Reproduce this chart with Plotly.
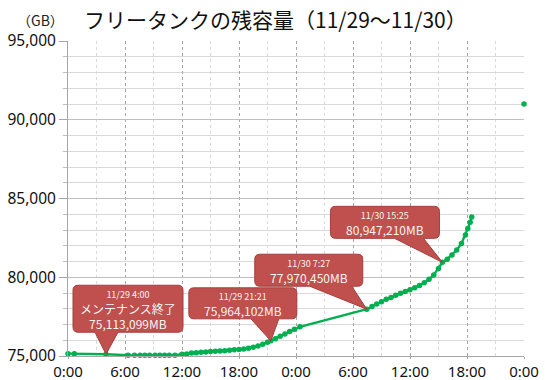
import pandas as pd
import plotly.graph_objects as go

# ---------------- data ----------------
times = [
    "2023-11-29 00:00", "2023-11-29 00:40", "2023-11-29 04:00", "2023-11-29 06:20",
    "2023-11-29 07:00", "2023-11-29 07:35", "2023-11-29 08:05", "2023-11-29 08:35",
    "2023-11-29 09:10", "2023-11-29 09:40", "2023-11-29 10:10", "2023-11-29 10:40",
    "2023-11-29 11:15", "2023-11-29 12:00", "2023-11-29 12:30", "2023-11-29 13:00",
    "2023-11-29 13:30", "2023-11-29 14:00", "2023-11-29 14:30", "2023-11-29 15:00",
    "2023-11-29 15:30", "2023-11-29 16:00", "2023-11-29 16:30", "2023-11-29 17:00",
    "2023-11-29 17:30", "2023-11-29 18:00", "2023-11-29 18:30", "2023-11-29 19:00",
    "2023-11-29 19:30", "2023-11-29 20:00", "2023-11-29 20:30", "2023-11-29 21:00",
    "2023-11-29 21:21", "2023-11-29 21:50", "2023-11-29 22:20", "2023-11-29 22:50",
    "2023-11-29 23:20", "2023-11-29 23:50", "2023-11-30 00:25", "2023-11-30 07:27",
    "2023-11-30 08:00", "2023-11-30 08:30", "2023-11-30 09:00", "2023-11-30 09:30",
    "2023-11-30 10:00", "2023-11-30 10:30", "2023-11-30 11:00", "2023-11-30 11:30",
    "2023-11-30 12:00", "2023-11-30 12:30", "2023-11-30 13:00", "2023-11-30 13:30",
    "2023-11-30 14:00", "2023-11-30 14:30", "2023-11-30 15:00", "2023-11-30 15:25",
    "2023-11-30 15:55", "2023-11-30 16:25", "2023-11-30 16:55", "2023-11-30 17:25",
    "2023-11-30 17:50", "2023-11-30 18:05", "2023-11-30 18:20", "2023-11-30 18:30",
]
free_gb = [
    75150, 75150, 75113, 75050,
    75040, 75040, 75040, 75040,
    75040, 75040, 75040, 75045,
    75050, 75110, 75130, 75190,
    75210, 75240, 75260, 75280,
    75300, 75320, 75340, 75370,
    75390, 75420, 75450, 75490,
    75550, 75640, 75750, 75870,
    75964, 76100, 76260, 76400,
    76550, 76700, 76850, 77970,
    78150, 78300, 78450, 78600,
    78720, 78850, 78980, 79100,
    79200, 79330, 79480, 79650,
    79870, 80150, 80550, 80947,
    81150, 81410, 81730, 82150,
    82680, 83100, 83500, 83830,
]
outlier_time = ["2023-12-01 00:00"]
outlier_gb = [91000]

callout_times = ["2023-11-29 04:00", "2023-11-29 21:21", "2023-11-30 07:27", "2023-11-30 15:25"]
callout_gb = [75113, 75964, 77970, 80947]
callout_small = ["11/29 4:00", "11/29 21:21", "11/30 7:27", "11/30 15:25"]
callout_main = ["メンテナンス終了<br>75,113,099MB", "75,964,102MB", "77,970,450MB", "80,947,210MB"]

x_start, x_end = "2023-11-29 00:00", "2023-12-01 00:00"
y_min, y_max = 75000, 95000

# ---------------- layout geometry ----------------
W, H = 545, 380
ML, MR, MT, MB = 68, 21, 41, 24
PW, PH = W - ML - MR, H - MT - MB
x0_ms = pd.Timestamp(x_start).value // 10**6
x1_ms = pd.Timestamp(x_end).value // 10**6
MS_PER_PX = (x1_ms - x0_ms) / PW
GB_PER_PX = (y_max - y_min) / PH

# callout box geometry in px relative to the tip:
# left, right, top, bottom, pointer base left, pointer base right
geo = [
    (-33, 77, -69, -22, -11, 12),
    (-82, 26, -53, -22, -20, 8),
    (-112, -4, -55, -23, -57, -15),
    (-112, -3, -56, -24, -48, -19),
]

fig = go.Figure()
fig.add_trace(go.Scatter(
    x=times, y=free_gb, mode="lines+markers",
    line=dict(color="#00B050", width=2.4),
    marker=dict(color="#00B050", size=5.5),
    cliponaxis=False, showlegend=False, hoverinfo="skip",
))
fig.add_trace(go.Scatter(
    x=outlier_time, y=outlier_gb, mode="markers",
    marker=dict(color="#00B050", size=5.5),
    cliponaxis=False, showlegend=False, hoverinfo="skip",
))

shapes = []
annotations = []
r = 5
for t, v, small, main, g in zip(callout_times, callout_gb, callout_small, callout_main, geo):
    tx = pd.Timestamp(t).value // 10**6
    L, R, T, B, bl, br = g

    def X(dx):
        return tx + dx * MS_PER_PX

    def Y(dy):
        return v - dy * GB_PER_PX

    pts = (
        f"M {X(L + r)},{Y(T)} L {X(R - r)},{Y(T)} Q {X(R)},{Y(T)} {X(R)},{Y(T + r)} "
        f"L {X(R)},{Y(B - r)} Q {X(R)},{Y(B)} {X(R - r)},{Y(B)} "
        f"L {X(br)},{Y(B)} L {X(0)},{Y(0)} L {X(bl)},{Y(B)} "
        f"L {X(L + r)},{Y(B)} Q {X(L)},{Y(B)} {X(L)},{Y(B - r)} "
        f"L {X(L)},{Y(T + r)} Q {X(L)},{Y(T)} {X(L + r)},{Y(T)} Z"
    )
    shapes.append(dict(type="path", xref="x", yref="y", path=pts,
                       fillcolor="#C0504D", line=dict(color="#A33F3C", width=1), layer="above"))
    annotations.append(dict(
        x=t, y=v, xref="x", yref="y", showarrow=False,
        xshift=(L + R) / 2, yshift=-(T + B) / 2 - 1,
        text=f"<span style='font-size:9px'>{small}</span><br>{main}",
        font=dict(family="Noto Sans CJK JP", size=12, color="#F4F4F4"),
        align="center", xanchor="center", yanchor="middle",
    ))

annotations.append(dict(
    x=(275 - ML) / PW, y=1, xref="paper", yref="paper", yshift=22, showarrow=False,
    text="フリータンクの残容量（11/29～11/30）",
    font=dict(family="Noto Sans CJK JP", size=21, color="#111111"),
    xanchor="center", yanchor="middle",
))
annotations.append(dict(
    x=0, y=1, xref="paper", yref="paper", xshift=-2, yshift=21, showarrow=False,
    text="（GB）", font=dict(family="Noto Sans CJK JP", size=14, color="#222222"),
    xanchor="right", yanchor="middle",
))

fig.update_layout(
    width=W, height=H,
    margin=dict(l=ML, r=MR, t=MT, b=MB, autoexpand=False),
    paper_bgcolor="white", plot_bgcolor="white",
    shapes=shapes, annotations=annotations,
    font=dict(family="Noto Sans", color="#111111"),
    hovermode=False,
)
fig.update_xaxes(
    type="date", range=[x_start, x_end], automargin=False,
    tick0=x_start, dtick=6 * 3600 * 1000, tickformat="%-H:%M",
    showgrid=True, gridcolor="#A6A6A6", griddash="dot", gridwidth=1,
    minor=dict(dtick=3 * 3600 * 1000, showgrid=True, gridcolor="#D9D9D9", gridwidth=1),
    showline=True, linecolor="#A6A6A6", linewidth=1,
    ticks="outside", ticklen=2, tickcolor="#A6A6A6",
    tickfont=dict(family="Noto Sans", size=15, color="#111111"),
    zeroline=False, fixedrange=True,
)
fig.update_yaxes(
    range=[y_min, y_max], dtick=5000, tickformat=",d", automargin=False,
    showgrid=True, gridcolor="#BFBFBF", gridwidth=1,
    minor=dict(dtick=1000, showgrid=True, gridcolor="#D9D9D9", gridwidth=1,
               ticks="outside", ticklen=4, tickcolor="#BFBFBF"),
    showline=True, linecolor="#A6A6A6", linewidth=1,
    ticks="outside", ticklen=8, tickcolor="#A6A6A6",
    tickfont=dict(family="Noto Sans", size=15.5, color="#111111"),
    zeroline=False, fixedrange=True,
)

fig.write_html("out.html", config={"displayModeBar": False, "staticPlot": True},
               post_script="document.body.style.margin='0';")
